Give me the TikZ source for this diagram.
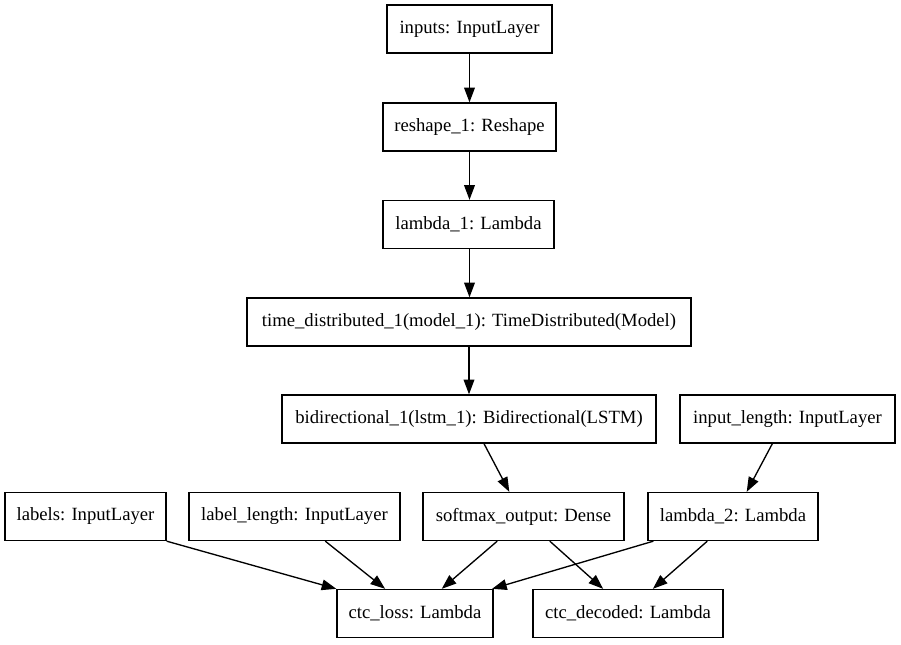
\documentclass[tikz,border=0pt]{standalone}
\usepackage{fontspec}
\setmainfont{Liberation Serif}
\usetikzlibrary{arrows.meta,calc}
\tikzset{
  layer/.style={draw=black, line width=1pt, rectangle, minimum height=36pt, inner sep=0pt, font=\fontsize{14pt}{16pt}\selectfont, fill=white},
  edge/.style={draw=black, line width=1pt, -{Triangle[length=11pt,width=8pt]}}
}
\begin{document}
\begin{tikzpicture}[x=0.75pt,y=-0.75pt]
\path[use as bounding box, fill=white] (0,0) rectangle (901,644);
\node[layer, minimum width=123.75pt] (inputs) at (469.5,29) {inputs: InputLayer};
\node[layer, minimum width=129.75pt] (reshape) at (469.5,127) {reshape\_1: Reshape};
\node[layer, minimum width=128.25pt] (lambda1) at (468.5,224.5) {lambda\_1: Lambda};
\node[layer, minimum width=333pt] (timedist) at (469,322) {time\_distributed\_1(model\_1): TimeDistributed(Model)};
\node[layer, minimum width=280.5pt] (bidir) at (469,419) {bidirectional\_1(lstm\_1): Bidirectional(LSTM)};
\node[layer, minimum width=161.25pt] (inlen) at (787.5,419) {input\_length: InputLayer};
\node[layer, minimum width=120.75pt] (labels) at (85.5,516.5) {labels: InputLayer};
\node[layer, minimum width=158.25pt] (lablen) at (294.5,516.5) {label\_length: InputLayer};
\node[layer, minimum width=150.75pt] (softmax) at (523.5,516.5) {softmax\_output: Dense};
\node[layer, minimum width=127.5pt] (lambda2) at (733,516.5) {lambda\_2: Lambda};
\node[layer, minimum width=117pt] (ctcloss) at (415,613.5) {ctc\_loss: Lambda};
\node[layer, minimum width=142.5pt] (ctcdec) at (628,613.5) {ctc\_decoded: Lambda};

\draw[edge] (inputs.south) -- (inputs.south |- reshape.north);
\draw[edge] (reshape.south -| inputs.south) -- (inputs.south |- lambda1.north);
\draw[edge] (lambda1.south -| inputs.south) -- (inputs.south |- timedist.north);
\draw[edge] (timedist.south) -- (timedist.south |- bidir.north);
\draw[edge] ($(bidir.south west)!0.54!(bidir.south east)$) -- ($(softmax.north west)!0.43!(softmax.north east)$);
\draw[edge] ($(inlen.south west)!0.43!(inlen.south east)$) -- ($(lambda2.north west)!0.58!(lambda2.north east)$);
\draw[edge] (labels.south east) -- (ctcloss.north west);
\draw[edge] ($(lablen.south west)!0.645!(lablen.south east)$) -- ($(ctcloss.north west)!0.31!(ctcloss.north east)$);
\draw[edge] ($(softmax.south west)!0.37!(softmax.south east)$) -- ($(ctcloss.north west)!0.67!(ctcloss.north east)$);
\draw[edge] ($(softmax.south west)!0.63!(softmax.south east)$) -- ($(ctcdec.north west)!0.37!(ctcdec.north east)$);
\draw[edge] ($(lambda2.south west)!0.035!(lambda2.south east)$) -- ($(ctcloss.north west)!0.99!(ctcloss.north east)$);
\draw[edge] ($(lambda2.south west)!0.35!(lambda2.south east)$) -- ($(ctcdec.north west)!0.63!(ctcdec.north east)$);
\end{tikzpicture}
\end{document}
